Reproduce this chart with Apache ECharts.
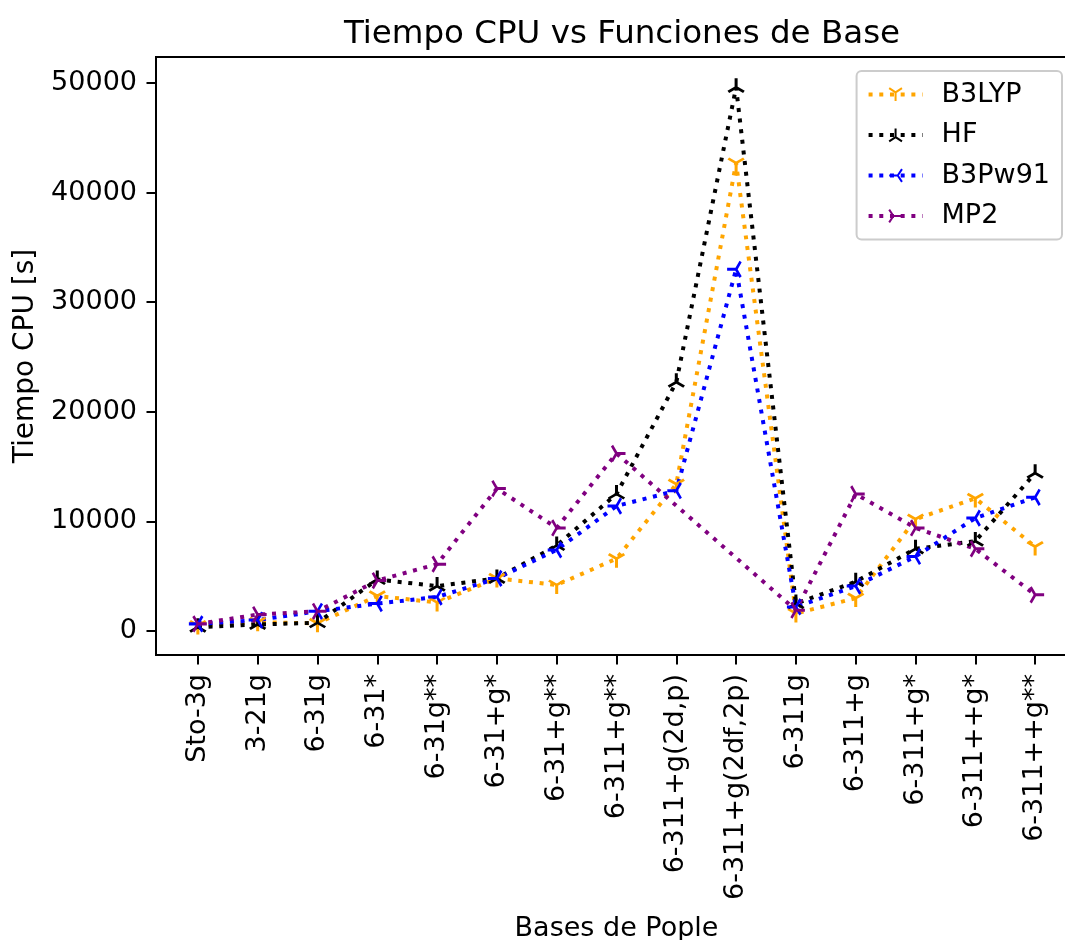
<!DOCTYPE html>
<html>
<head>
<meta charset="utf-8">
<script src="https://cdn.jsdelivr.net/npm/echarts@6/dist/echarts.min.js"></script>
<style>
html, body { margin: 0; padding: 0; background: #fff; }
#chart { width: 1065px; height: 940px; }
</style>
</head>
<body>
<div id="chart"></div>
<script>
// Data
const categories = ['Sto-3g', '3-21g', '6-31g', '6-31*', '6-31g**', '6-31+g*', '6-31+g**',
    '6-311+g**', '6-311+g(2d,p)', '6-311+g(2df,2p)', '6-311g', '6-311+g', '6-311+g*',
    '6-311++g*', '6-311++g**'];
const b3lyp = [500, 800, 700, 3200, 2600, 4800, 4200, 6600, 13400, 42700, 1600, 3000, 10200, 12100, 7700];
const hf = [350, 600, 750, 4700, 4100, 4800, 7800, 12500, 22700, 49600, 2500, 4500, 7500, 8200, 14400];
const b3pw91 = [650, 1000, 1800, 2500, 3100, 4800, 7400, 11400, 12800, 33000, 2200, 4100, 6800, 10300, 12200];
const mp2 = [650, 1500, 1800, 4600, 6100, 13000, 9400, 16200, null, null, 1900, 12500, 9400, 7500, 3300];
const yTicks = [0, 10000, 20000, 30000, 40000, 50000];

const FONT = 'DejaVu Sans';
const xTicks = categories.map((c, i) => i);

// matplotlib-like tri markers
const TRI_DOWN = 'path://M0,0L0,10M0,0L-8.66,-5M0,0L8.66,-5';
const TRI_UP = 'path://M0,0L0,-10M0,0L-8.66,5M0,0L8.66,5';
const TRI_LEFT = 'path://M0,0L-10,0M0,0L5,-8.66M0,0L5,8.66';
const TRI_RIGHT = 'path://M0,0L10,0M0,0L-5,-8.66M0,0L-5,8.66';

function makeSeries(name, vals, color, symbol, size, offset) {
    return {
        name: name,
        type: 'line',
        data: vals.map((v, i) => [i, v]),
        connectNulls: true,
        symbol: symbol,
        symbolSize: size,
        symbolOffset: offset,
        showAllSymbol: true,
        lineStyle: { color: color, width: 4, type: [4, 6.7], cap: 'butt' },
        itemStyle: { color: color, borderColor: color, borderWidth: 2.8 },
        emphasis: { disabled: true },
        animation: false
    };
}

const chart = echarts.init(document.getElementById('chart'));
chart.setOption({
    animation: false,
    title: {
        text: 'Tiempo CPU vs Funciones de Base',
        left: 617,
        textAlign: 'center',
        top: 13,
        textStyle: { fontFamily: FONT, fontSize: 32.5, fontWeight: 'normal', color: '#000' }
    },
    legend: {
        orient: 'vertical',
        right: 3,
        top: 71,
        padding: [10, 12, 10, 10],
        itemWidth: 54,
        itemHeight: 16,
        itemGap: 13.5,
        borderColor: '#cccccc',
        borderWidth: 2,
        borderRadius: 5,
        backgroundColor: 'rgba(255,255,255,0.8)',
        lineStyle: { width: 4, type: [4, 6.7] },
        textStyle: { fontFamily: FONT, fontSize: 27, color: '#000', lineHeight: 27, padding: [0, 0, 0, 14] },
        data: ['B3LYP', 'HF', 'B3Pw91', 'MP2']
    },
    grid: {
        left: 156,
        top: 57,
        width: 921,
        height: 598,
        show: true,
        borderColor: '#000',
        borderWidth: 2,
        containLabel: false,
        outerBoundsMode: 'none'
    },
    xAxis: {
        type: 'value',
        min: -0.7,
        max: 14.7,
        name: 'Bases de Pople',
        nameLocation: 'middle',
        nameGap: 260,
        nameTextStyle: { fontFamily: FONT, fontSize: 27, color: '#000' },
        axisLine: { show: true, onZero: false, lineStyle: { color: '#000', width: 2 } },
        axisTick: { show: true, inside: false, length: 9.5, customValues: xTicks, lineStyle: { color: '#000', width: 2 } },
        axisLabel: {
            customValues: xTicks,
            rotate: 90,
            margin: 19,
            fontFamily: FONT,
            fontSize: 27,
            color: '#000',
            formatter: v => categories[Math.round(v)]
        },
        splitLine: { show: false }
    },
    yAxis: {
        type: 'value',
        min: -2190,
        max: 52370,
        name: 'Tiempo CPU [s]',
        nameLocation: 'middle',
        nameGap: 116,
        nameTextStyle: { fontFamily: FONT, fontSize: 28, color: '#000' },
        axisLine: { show: true, onZero: false, lineStyle: { color: '#000', width: 2 } },
        axisTick: { show: true, inside: false, length: 9.5, customValues: yTicks, lineStyle: { color: '#000', width: 2 } },
        axisLabel: {
            customValues: yTicks,
            margin: 19,
            fontFamily: FONT,
            fontSize: 27,
            color: '#000',
            formatter: v => String(v)
        },
        splitLine: { show: false }
    },
    series: [
        makeSeries('B3LYP', b3lyp, '#FFA500', TRI_DOWN, [15.6, 13.5], [0, 2.25]),
        makeSeries('HF', hf, '#000000', TRI_UP, [15.6, 13.5], [0, -2.25]),
        makeSeries('B3Pw91', b3pw91, '#0000FF', TRI_LEFT, [13.5, 15.6], [-2.25, 0]),
        makeSeries('MP2', mp2, '#800080', TRI_RIGHT, [13.5, 15.6], [2.25, 0])
    ]
});
</script>
</body>
</html>
